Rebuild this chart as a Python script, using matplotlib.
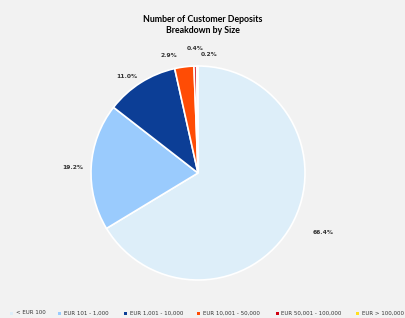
import matplotlib
matplotlib.use("Agg")
import matplotlib.pyplot as plt
from matplotlib.patches import Rectangle

plt.rcParams['font.family'] = ['DejaVu Sans']

categories = ["< EUR 100", "EUR 101 - 1,000", "EUR 1,001 - 10,000",
              "EUR 10,001 - 50,000", "EUR 50,001 - 100,000", "EUR > 100,000"]
values = [66.4, 19.2, 11.0, 2.9, 0.4, 0.2]
colors = ["#DDEEF9", "#9ACBFD", "#0C3E96", "#FF4C05", "#D00010", "#FFE020"]
title = "Number of Customer Deposits\nBreakdown by Size"

W, H = 406, 318
fig = plt.figure(figsize=(W / 100, H / 100), dpi=100, facecolor="#F2F2F2")
cx, cy, r = 198, 173, 107
ax = fig.add_axes([(cx - r) / W, (H - cy - r) / H, 2 * r / W, 2 * r / H])
ax.set_facecolor("#F2F2F2")

wedges, texts = ax.pie(
    values, colors=colors, startangle=90, counterclock=False,
    labels=[f"{v:.1f}%" for v in values], labeldistance=1.17,
    wedgeprops=dict(edgecolor="white", linewidth=1.2),
    textprops=dict(fontsize=4.3, fontweight="bold", color="#333333"))
ax.set_aspect("equal")
ax.set_xlim(-1, 1)
ax.set_ylim(-1, 1)

# nudge labels like Excel's "outside end" placement
offs = {0: (0.15, 0.016), 1: (0.0, -0.017), 2: (-0.043, -0.085),
        3: (-0.119, -0.058), 4: (0.0, -0.01), 5: (0.11, -0.058)}
for i, (dx, dy) in offs.items():
    x, y = texts[i].get_position()
    texts[i].set_position((x + dx, y + dy))
    texts[i].set_ha("center")
    texts[i].set_va("center")

fig.text(203 / W, 1 - 25 / H, title, ha="center", va="center",
         fontsize=6.3, fontweight="bold", color="#000000", linespacing=1.35,
         family=['Lato', 'DejaVu Sans'])

# legend row, laid out like the Excel legend
leg_x = [12, 60, 126, 199, 277, 358]
leg_y = 313
sq = 3
for xpx, lab, col in zip(leg_x, categories, colors):
    fig.patches.append(Rectangle(((xpx - sq / 2) / W, 1 - (leg_y + sq / 2) / H),
                                 sq / W, sq / H, transform=fig.transFigure,
                                 facecolor=col, edgecolor="none"))
    fig.text((xpx + 4) / W, 1 - leg_y / H, lab, ha="left", va="center",
             fontsize=4.0, color="#333333")

fig.savefig("out.png", dpi=100, facecolor="#F2F2F2")
